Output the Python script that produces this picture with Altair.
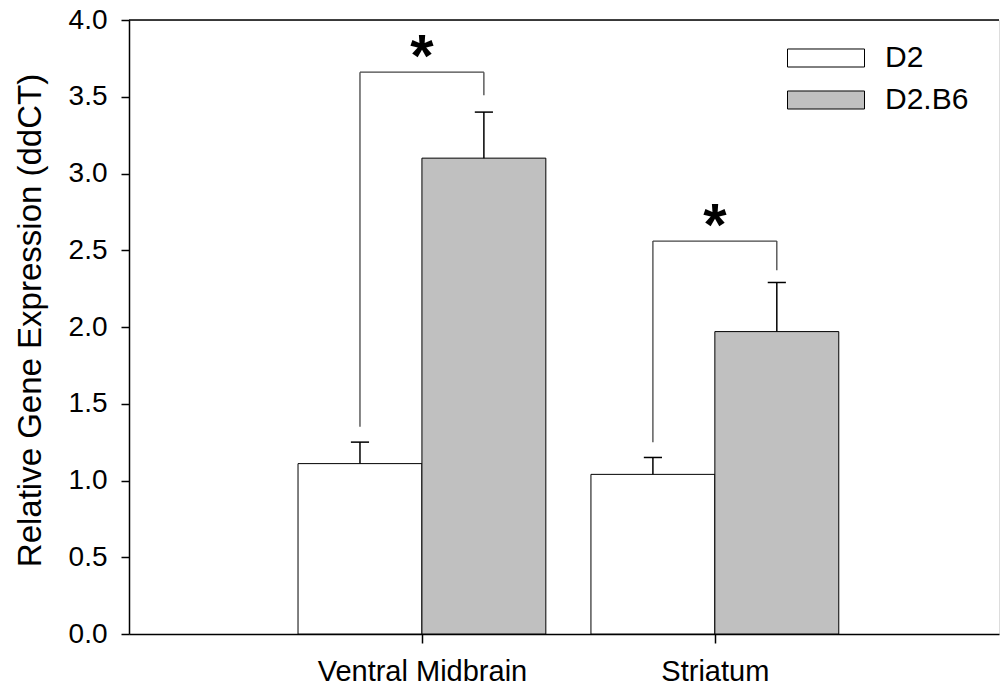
import altair as alt
import pandas as pd

# Regions and their positions on the x scale
regions = ["Ventral Midbrain", "Striatum"]
positions = [1, 2]

# Strain means and SEM (relative expression, ddCT)
strains = ["D2", "D2.B6"]
d2_mean = [1.11, 1.04]
d2_err = [0.14, 0.11]
b6_mean = [3.10, 1.97]
b6_err = [0.30, 0.32]

# Significance brackets: left foot, top, right foot
bracket_left = [1.35, 1.25]
bracket_top = [3.66, 2.56]
bracket_right = [3.51, 2.37]

y_ticks = [0.0, 0.5, 1.0, 1.5, 2.0, 2.5, 3.0, 3.5, 4.0]

BAR_W = 0.423
CAP = 0.031
X_MAX = 2.97
Y_MAX = 4.0

rows = []
for i, r in enumerate(regions):
    p = positions[i]
    rows.append(dict(region=r, strain="D2", x0=p - BAR_W, x1=p, xc=p - BAR_W / 2,
                     mean=d2_mean[i], top=d2_mean[i] + d2_err[i]))
    rows.append(dict(region=r, strain="D2.B6", x0=p, x1=p + BAR_W, xc=p + BAR_W / 2,
                     mean=b6_mean[i], top=b6_mean[i] + b6_err[i]))
bars = pd.DataFrame(rows)
bars["cap0"] = bars["xc"] - CAP
bars["cap1"] = bars["xc"] + CAP

br = pd.DataFrame(dict(
    pos=positions,
    xl=[p - BAR_W / 2 for p in positions],
    xr=[p + BAR_W / 2 for p in positions],
    yl=bracket_left, yt=bracket_top, yr=bracket_right,
))

label_expr = " : ".join(
    [f"datum.value == {p} ? '{r}'" for p, r in zip(positions[:-1], regions[:-1])]
    + [f"'{regions[-1]}'"]
)

FONT = "Liberation Sans"

x_scale = alt.Scale(domain=[0, X_MAX], nice=False, zero=False)
y_scale = alt.Scale(domain=[0, Y_MAX], nice=False)

x_axis = alt.Axis(values=positions, labelExpr=label_expr, title=None, grid=False,
                  tickSize=9, tickWidth=1.5, domainWidth=1.5, domainColor="black",
                  tickColor="black", labelColor="black", labelFontSize=29,
                  labelFont=FONT, labelPadding=14, labelLimit=0)
y_axis = alt.Axis(values=y_ticks, format=".1f", title="Relative Gene Expression (ddCT)",
                  grid=False, tickSize=8, tickWidth=1.5, domainWidth=1.5,
                  domainColor="black", tickColor="black", labelColor="black",
                  labelFontSize=28, labelFont=FONT, labelPadding=14,
                  titleFontSize=33, titleFont=FONT, titleFontWeight="normal",
                  titleColor="black", titleX=-99, titleY=300,
                  titleAlign="center", titleBaseline="middle", titleAngle=-90)

legend = alt.Legend(title=None, orient="none", legendX=658, legendY=21,
                    symbolType="M-1,-0.234L1,-0.234L1,0.234L-1,0.234Z",
                    symbolSize=5929, symbolStrokeColor="black",
                    symbolStrokeWidth=1, labelFontSize=30, labelFont=FONT,
                    labelColor="black", labelOffset=20, clipHeight=34,
                    rowPadding=8)

bar_layer = alt.Chart(bars).mark_bar(stroke="black", strokeWidth=1).encode(
    x=alt.X("x0:Q", scale=x_scale, axis=x_axis),
    x2="x1:Q",
    y=alt.Y("mean:Q", scale=y_scale, axis=y_axis),
    y2=alt.datum(0),
    color=alt.Color("strain:N", scale=alt.Scale(domain=strains, range=["white", "#c0c0c0"]),
                    legend=legend),
)

err_layer = alt.Chart(bars).mark_rule(color="black", strokeWidth=1.5).encode(
    x="xc:Q", y="mean:Q", y2="top:Q")
cap_layer = alt.Chart(bars).mark_rule(color="black", strokeWidth=1.5).encode(
    x="cap0:Q", x2="cap1:Q", y="top:Q")

br_left = alt.Chart(br).mark_rule(color="#444444", strokeWidth=1.3).encode(
    x="xl:Q", y="yl:Q", y2="yt:Q")
br_top = alt.Chart(br).mark_rule(color="#444444", strokeWidth=1.3).encode(
    x="xl:Q", x2="xr:Q", y="yt:Q")
br_right = alt.Chart(br).mark_rule(color="#444444", strokeWidth=1.3).encode(
    x="xr:Q", y="yr:Q", y2="yt:Q")

stars = alt.Chart(br).mark_text(text="*", fontSize=60, fontWeight="bold", font=FONT,
                                color="black", baseline="alphabetic", dy=4).encode(
    x="pos:Q", y="yt:Q")

top_border = alt.Chart(pd.DataFrame({"y": [Y_MAX], "x0": [0], "x1": [X_MAX]})).mark_rule(
    color="black", strokeWidth=1.5).encode(x="x0:Q", x2="x1:Q", y="y:Q")

chart = alt.layer(
    bar_layer, err_layer, cap_layer, br_left, br_top, br_right, stars, top_border
).properties(
    width=870, height=614,
    autosize=alt.AutoSizeParams(type="none"),
    padding={"left": 129, "top": 20, "right": 1, "bottom": 56},
).configure_view(stroke=None).configure(background="white")

chart.save("out.html", embed_options={"renderer": "svg", "actions": False})
